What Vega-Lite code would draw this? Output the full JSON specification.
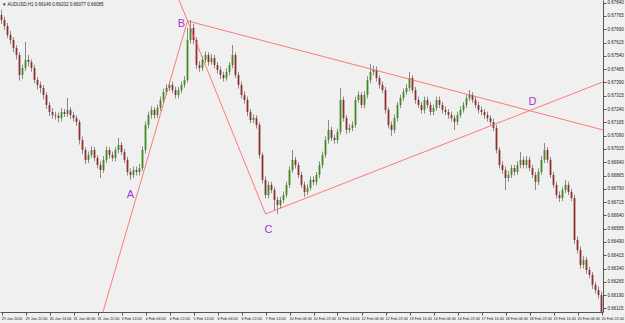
{
"$schema": "https://vega.github.io/schema/vega-lite/v6.json",
"width": 603, "height": 312,
"autosize": {"type": "none"},
"padding": {"left": 0, "top": 0, "right": 22, "bottom": 11},
"background": "#f0f0f0",
"config": {"view": {"stroke": null}, "font": "Liberation Sans"},
"title": {"text": "▼ AUDUSD,H1  0.66146 0.66202 0.66077 0.66085", "anchor": "start", "frame": "group", "offset": -7, "fontSize": 4.5, "fontWeight": "normal", "color": "#222222", "dx": 2},
"datasets": {
"candles": [
{"k":0,"t":"29 Jan 06:00","o":0.67770,"h":0.67800,"l":0.67720,"c":0.67742},
{"k":1,"t":"29 Jan 08:00","o":0.67742,"h":0.67760,"l":0.67685,"c":0.67708},
{"k":2,"t":"29 Jan 10:00","o":0.67708,"h":0.67725,"l":0.67640,"c":0.67658},
{"k":3,"t":"29 Jan 12:00","o":0.67658,"h":0.67680,"l":0.67605,"c":0.67629},
{"k":4,"t":"29 Jan 14:00","o":0.67629,"h":0.67645,"l":0.67560,"c":0.67584},
{"k":5,"t":"29 Jan 16:00","o":0.67584,"h":0.67600,"l":0.67520,"c":0.67545},
{"k":6,"t":"29 Jan 18:00","o":0.67545,"h":0.67560,"l":0.67400,"c":0.67432},
{"k":7,"t":"29 Jan 20:00","o":0.67432,"h":0.67490,"l":0.67410,"c":0.67471},
{"k":8,"t":"29 Jan 22:00","o":0.67471,"h":0.67618,"l":0.67455,"c":0.67517},
{"k":9,"t":"30 Jan 00:00","o":0.67517,"h":0.67545,"l":0.67480,"c":0.67505},
{"k":10,"t":"30 Jan 02:00","o":0.67505,"h":0.67520,"l":0.67450,"c":0.67471},
{"k":11,"t":"30 Jan 04:00","o":0.67471,"h":0.67490,"l":0.67385,"c":0.67404},
{"k":12,"t":"30 Jan 06:00","o":0.67404,"h":0.67420,"l":0.67350,"c":0.67376},
{"k":13,"t":"30 Jan 08:00","o":0.67376,"h":0.67395,"l":0.67330,"c":0.67359},
{"k":14,"t":"30 Jan 10:00","o":0.67359,"h":0.67375,"l":0.67295,"c":0.67319},
{"k":15,"t":"30 Jan 12:00","o":0.67319,"h":0.67335,"l":0.67240,"c":0.67263},
{"k":16,"t":"30 Jan 14:00","o":0.67263,"h":0.67280,"l":0.67200,"c":0.67223},
{"k":17,"t":"30 Jan 16:00","o":0.67223,"h":0.67245,"l":0.67185,"c":0.67206},
{"k":18,"t":"30 Jan 18:00","o":0.67206,"h":0.67225,"l":0.67180,"c":0.67201},
{"k":19,"t":"30 Jan 20:00","o":0.67201,"h":0.67220,"l":0.67165,"c":0.67189},
{"k":20,"t":"30 Jan 22:00","o":0.67189,"h":0.67245,"l":0.67170,"c":0.67223},
{"k":21,"t":"31 Jan 00:00","o":0.67223,"h":0.67240,"l":0.67195,"c":0.67212},
{"k":22,"t":"31 Jan 02:00","o":0.67212,"h":0.67302,"l":0.67195,"c":0.67235},
{"k":23,"t":"31 Jan 04:00","o":0.67235,"h":0.67250,"l":0.67185,"c":0.67206},
{"k":24,"t":"31 Jan 06:00","o":0.67206,"h":0.67225,"l":0.67170,"c":0.67189},
{"k":25,"t":"31 Jan 08:00","o":0.67189,"h":0.67205,"l":0.67145,"c":0.67167},
{"k":26,"t":"31 Jan 10:00","o":0.67167,"h":0.67180,"l":0.67040,"c":0.67065},
{"k":27,"t":"31 Jan 12:00","o":0.67065,"h":0.67085,"l":0.66985,"c":0.67009},
{"k":28,"t":"31 Jan 14:00","o":0.67009,"h":0.67025,"l":0.66930,"c":0.66953},
{"k":29,"t":"31 Jan 16:00","o":0.66953,"h":0.67000,"l":0.66935,"c":0.66981},
{"k":30,"t":"31 Jan 18:00","o":0.66981,"h":0.67030,"l":0.66965,"c":0.67009},
{"k":31,"t":"31 Jan 20:00","o":0.67009,"h":0.67025,"l":0.66945,"c":0.66964},
{"k":32,"t":"31 Jan 22:00","o":0.66964,"h":0.66980,"l":0.66905,"c":0.66924},
{"k":33,"t":"3 Feb 00:00","o":0.66924,"h":0.66945,"l":0.66851,"c":0.66896},
{"k":34,"t":"3 Feb 02:00","o":0.66896,"h":0.66975,"l":0.66880,"c":0.66953},
{"k":35,"t":"3 Feb 04:00","o":0.66953,"h":0.67030,"l":0.66935,"c":0.67009},
{"k":36,"t":"3 Feb 06:00","o":0.67009,"h":0.67025,"l":0.66960,"c":0.66981},
{"k":37,"t":"3 Feb 08:00","o":0.66981,"h":0.67000,"l":0.66945,"c":0.66964},
{"k":38,"t":"3 Feb 10:00","o":0.66964,"h":0.67025,"l":0.66945,"c":0.67009},
{"k":39,"t":"3 Feb 12:00","o":0.67009,"h":0.67077,"l":0.66990,"c":0.67037},
{"k":40,"t":"3 Feb 14:00","o":0.67037,"h":0.67055,"l":0.66980,"c":0.66998},
{"k":41,"t":"3 Feb 16:00","o":0.66998,"h":0.67015,"l":0.66935,"c":0.66953},
{"k":42,"t":"3 Feb 18:00","o":0.66953,"h":0.66970,"l":0.66865,"c":0.66885},
{"k":43,"t":"3 Feb 20:00","o":0.66885,"h":0.66905,"l":0.66840,"c":0.66868},
{"k":44,"t":"3 Feb 22:00","o":0.66868,"h":0.66915,"l":0.66850,"c":0.66896},
{"k":45,"t":"4 Feb 00:00","o":0.66896,"h":0.66915,"l":0.66865,"c":0.66885},
{"k":46,"t":"4 Feb 02:00","o":0.66885,"h":0.66930,"l":0.66865,"c":0.66907},
{"k":47,"t":"4 Feb 04:00","o":0.66907,"h":0.67030,"l":0.66890,"c":0.67009},
{"k":48,"t":"4 Feb 06:00","o":0.67009,"h":0.67170,"l":0.66990,"c":0.67150},
{"k":49,"t":"4 Feb 08:00","o":0.67150,"h":0.67225,"l":0.67130,"c":0.67206},
{"k":50,"t":"4 Feb 10:00","o":0.67206,"h":0.67255,"l":0.67185,"c":0.67235},
{"k":51,"t":"4 Feb 12:00","o":0.67235,"h":0.67250,"l":0.67185,"c":0.67206},
{"k":52,"t":"4 Feb 14:00","o":0.67206,"h":0.67265,"l":0.67190,"c":0.67246},
{"k":53,"t":"4 Feb 16:00","o":0.67246,"h":0.67310,"l":0.67230,"c":0.67291},
{"k":54,"t":"4 Feb 18:00","o":0.67291,"h":0.67355,"l":0.67275,"c":0.67336},
{"k":55,"t":"4 Feb 20:00","o":0.67336,"h":0.67380,"l":0.67320,"c":0.67359},
{"k":56,"t":"4 Feb 22:00","o":0.67359,"h":0.67395,"l":0.67340,"c":0.67376},
{"k":57,"t":"5 Feb 00:00","o":0.67376,"h":0.67395,"l":0.67330,"c":0.67347},
{"k":58,"t":"5 Feb 02:00","o":0.67347,"h":0.67365,"l":0.67300,"c":0.67319},
{"k":59,"t":"5 Feb 04:00","o":0.67319,"h":0.67365,"l":0.67300,"c":0.67347},
{"k":60,"t":"5 Feb 06:00","o":0.67347,"h":0.67395,"l":0.67330,"c":0.67376},
{"k":61,"t":"5 Feb 08:00","o":0.67376,"h":0.67425,"l":0.67360,"c":0.67404},
{"k":62,"t":"5 Feb 10:00","o":0.67404,"h":0.67697,"l":0.67390,"c":0.67629},
{"k":63,"t":"5 Feb 12:00","o":0.67629,"h":0.67742,"l":0.67610,"c":0.67697},
{"k":64,"t":"5 Feb 14:00","o":0.67697,"h":0.67720,"l":0.67605,"c":0.67629},
{"k":65,"t":"5 Feb 16:00","o":0.67629,"h":0.67645,"l":0.67465,"c":0.67488},
{"k":66,"t":"5 Feb 18:00","o":0.67488,"h":0.67510,"l":0.67450,"c":0.67471},
{"k":67,"t":"5 Feb 20:00","o":0.67471,"h":0.67540,"l":0.67455,"c":0.67517},
{"k":68,"t":"5 Feb 22:00","o":0.67517,"h":0.67565,"l":0.67500,"c":0.67545},
{"k":69,"t":"6 Feb 00:00","o":0.67545,"h":0.67560,"l":0.67485,"c":0.67505},
{"k":70,"t":"6 Feb 02:00","o":0.67505,"h":0.67550,"l":0.67490,"c":0.67528},
{"k":71,"t":"6 Feb 04:00","o":0.67528,"h":0.67545,"l":0.67470,"c":0.67488},
{"k":72,"t":"6 Feb 06:00","o":0.67488,"h":0.67505,"l":0.67440,"c":0.67460},
{"k":73,"t":"6 Feb 08:00","o":0.67460,"h":0.67480,"l":0.67410,"c":0.67432},
{"k":74,"t":"6 Feb 10:00","o":0.67432,"h":0.67450,"l":0.67395,"c":0.67415},
{"k":75,"t":"6 Feb 12:00","o":0.67415,"h":0.67470,"l":0.67400,"c":0.67449},
{"k":76,"t":"6 Feb 14:00","o":0.67449,"h":0.67505,"l":0.67430,"c":0.67488},
{"k":77,"t":"6 Feb 16:00","o":0.67488,"h":0.67601,"l":0.67470,"c":0.67545},
{"k":78,"t":"6 Feb 18:00","o":0.67545,"h":0.67560,"l":0.67415,"c":0.67432},
{"k":79,"t":"6 Feb 20:00","o":0.67432,"h":0.67450,"l":0.67355,"c":0.67376},
{"k":80,"t":"6 Feb 22:00","o":0.67376,"h":0.67395,"l":0.67300,"c":0.67319},
{"k":81,"t":"7 Feb 00:00","o":0.67319,"h":0.67340,"l":0.67270,"c":0.67291},
{"k":82,"t":"7 Feb 02:00","o":0.67291,"h":0.67310,"l":0.67200,"c":0.67223},
{"k":83,"t":"7 Feb 04:00","o":0.67223,"h":0.67240,"l":0.67160,"c":0.67178},
{"k":84,"t":"7 Feb 06:00","o":0.67178,"h":0.67210,"l":0.67160,"c":0.67189},
{"k":85,"t":"7 Feb 08:00","o":0.67189,"h":0.67205,"l":0.67130,"c":0.67150},
{"k":86,"t":"7 Feb 10:00","o":0.67150,"h":0.67165,"l":0.66960,"c":0.66981},
{"k":87,"t":"7 Feb 12:00","o":0.66981,"h":0.66995,"l":0.66820,"c":0.66840},
{"k":88,"t":"7 Feb 14:00","o":0.66840,"h":0.66860,"l":0.66735,"c":0.66755},
{"k":89,"t":"7 Feb 16:00","o":0.66755,"h":0.66830,"l":0.66735,"c":0.66812},
{"k":90,"t":"7 Feb 18:00","o":0.66812,"h":0.66830,"l":0.66765,"c":0.66783},
{"k":91,"t":"7 Feb 20:00","o":0.66783,"h":0.66800,"l":0.66671,"c":0.66727},
{"k":92,"t":"7 Feb 22:00","o":0.66727,"h":0.66745,"l":0.66648,"c":0.66699},
{"k":93,"t":"10 Feb 00:00","o":0.66699,"h":0.66745,"l":0.66680,"c":0.66727},
{"k":94,"t":"10 Feb 02:00","o":0.66727,"h":0.66775,"l":0.66710,"c":0.66755},
{"k":95,"t":"10 Feb 04:00","o":0.66755,"h":0.66830,"l":0.66740,"c":0.66812},
{"k":96,"t":"10 Feb 06:00","o":0.66812,"h":0.66915,"l":0.66795,"c":0.66896},
{"k":97,"t":"10 Feb 08:00","o":0.66896,"h":0.67009,"l":0.66880,"c":0.66953},
{"k":98,"t":"10 Feb 10:00","o":0.66953,"h":0.66970,"l":0.66905,"c":0.66924},
{"k":99,"t":"10 Feb 12:00","o":0.66924,"h":0.66940,"l":0.66850,"c":0.66868},
{"k":100,"t":"10 Feb 14:00","o":0.66868,"h":0.66885,"l":0.66795,"c":0.66812},
{"k":101,"t":"10 Feb 16:00","o":0.66812,"h":0.66830,"l":0.66744,"c":0.66772},
{"k":102,"t":"10 Feb 18:00","o":0.66772,"h":0.66815,"l":0.66755,"c":0.66795},
{"k":103,"t":"10 Feb 20:00","o":0.66795,"h":0.66860,"l":0.66780,"c":0.66840},
{"k":104,"t":"10 Feb 22:00","o":0.66840,"h":0.66860,"l":0.66810,"c":0.66829},
{"k":105,"t":"11 Feb 00:00","o":0.66829,"h":0.66885,"l":0.66810,"c":0.66868},
{"k":106,"t":"11 Feb 02:00","o":0.66868,"h":0.66945,"l":0.66850,"c":0.66924},
{"k":107,"t":"11 Feb 04:00","o":0.66924,"h":0.67000,"l":0.66905,"c":0.66981},
{"k":108,"t":"11 Feb 06:00","o":0.66981,"h":0.67085,"l":0.66965,"c":0.67065},
{"k":109,"t":"11 Feb 08:00","o":0.67065,"h":0.67178,"l":0.67045,"c":0.67122},
{"k":110,"t":"11 Feb 10:00","o":0.67122,"h":0.67140,"l":0.67060,"c":0.67077},
{"k":111,"t":"11 Feb 12:00","o":0.67077,"h":0.67095,"l":0.67045,"c":0.67065},
{"k":112,"t":"11 Feb 14:00","o":0.67065,"h":0.67130,"l":0.67045,"c":0.67111},
{"k":113,"t":"11 Feb 16:00","o":0.67111,"h":0.67359,"l":0.67095,"c":0.67291},
{"k":114,"t":"11 Feb 18:00","o":0.67291,"h":0.67310,"l":0.67170,"c":0.67189},
{"k":115,"t":"11 Feb 20:00","o":0.67189,"h":0.67205,"l":0.67100,"c":0.67122},
{"k":116,"t":"11 Feb 22:00","o":0.67122,"h":0.67155,"l":0.67105,"c":0.67133},
{"k":117,"t":"12 Feb 00:00","o":0.67133,"h":0.67170,"l":0.67115,"c":0.67150},
{"k":118,"t":"12 Feb 02:00","o":0.67150,"h":0.67310,"l":0.67135,"c":0.67291},
{"k":119,"t":"12 Feb 04:00","o":0.67291,"h":0.67340,"l":0.67275,"c":0.67319},
{"k":120,"t":"12 Feb 06:00","o":0.67319,"h":0.67335,"l":0.67245,"c":0.67263},
{"k":121,"t":"12 Feb 08:00","o":0.67263,"h":0.67340,"l":0.67245,"c":0.67319},
{"k":122,"t":"12 Feb 10:00","o":0.67319,"h":0.67425,"l":0.67300,"c":0.67404},
{"k":123,"t":"12 Feb 12:00","o":0.67404,"h":0.67494,"l":0.67385,"c":0.67449},
{"k":124,"t":"12 Feb 14:00","o":0.67449,"h":0.67485,"l":0.67430,"c":0.67460},
{"k":125,"t":"12 Feb 16:00","o":0.67460,"h":0.67480,"l":0.67395,"c":0.67415},
{"k":126,"t":"12 Feb 18:00","o":0.67415,"h":0.67430,"l":0.67355,"c":0.67376},
{"k":127,"t":"12 Feb 20:00","o":0.67376,"h":0.67395,"l":0.67330,"c":0.67347},
{"k":128,"t":"12 Feb 22:00","o":0.67347,"h":0.67365,"l":0.67215,"c":0.67235},
{"k":129,"t":"13 Feb 00:00","o":0.67235,"h":0.67250,"l":0.67130,"c":0.67150},
{"k":130,"t":"13 Feb 02:00","o":0.67150,"h":0.67170,"l":0.67088,"c":0.67122},
{"k":131,"t":"13 Feb 04:00","o":0.67122,"h":0.67210,"l":0.67105,"c":0.67189},
{"k":132,"t":"13 Feb 06:00","o":0.67189,"h":0.67280,"l":0.67170,"c":0.67263},
{"k":133,"t":"13 Feb 08:00","o":0.67263,"h":0.67320,"l":0.67245,"c":0.67302},
{"k":134,"t":"13 Feb 10:00","o":0.67302,"h":0.67355,"l":0.67285,"c":0.67336},
{"k":135,"t":"13 Feb 12:00","o":0.67336,"h":0.67380,"l":0.67320,"c":0.67359},
{"k":136,"t":"13 Feb 14:00","o":0.67359,"h":0.67449,"l":0.67340,"c":0.67415},
{"k":137,"t":"13 Feb 16:00","o":0.67415,"h":0.67430,"l":0.67330,"c":0.67347},
{"k":138,"t":"13 Feb 18:00","o":0.67347,"h":0.67365,"l":0.67270,"c":0.67291},
{"k":139,"t":"13 Feb 20:00","o":0.67291,"h":0.67310,"l":0.67245,"c":0.67263},
{"k":140,"t":"13 Feb 22:00","o":0.67263,"h":0.67280,"l":0.67215,"c":0.67235},
{"k":141,"t":"14 Feb 00:00","o":0.67235,"h":0.67310,"l":0.67215,"c":0.67291},
{"k":142,"t":"14 Feb 02:00","o":0.67291,"h":0.67310,"l":0.67245,"c":0.67263},
{"k":143,"t":"14 Feb 04:00","o":0.67263,"h":0.67280,"l":0.67205,"c":0.67223},
{"k":144,"t":"14 Feb 06:00","o":0.67223,"h":0.67265,"l":0.67205,"c":0.67246},
{"k":145,"t":"14 Feb 08:00","o":0.67246,"h":0.67310,"l":0.67230,"c":0.67291},
{"k":146,"t":"14 Feb 10:00","o":0.67291,"h":0.67310,"l":0.67245,"c":0.67263},
{"k":147,"t":"14 Feb 12:00","o":0.67263,"h":0.67280,"l":0.67215,"c":0.67235},
{"k":148,"t":"14 Feb 14:00","o":0.67235,"h":0.67255,"l":0.67205,"c":0.67223},
{"k":149,"t":"14 Feb 16:00","o":0.67223,"h":0.67240,"l":0.67185,"c":0.67206},
{"k":150,"t":"14 Feb 18:00","o":0.67206,"h":0.67225,"l":0.67170,"c":0.67189},
{"k":151,"t":"14 Feb 20:00","o":0.67189,"h":0.67205,"l":0.67122,"c":0.67167},
{"k":152,"t":"14 Feb 22:00","o":0.67167,"h":0.67225,"l":0.67150,"c":0.67206},
{"k":153,"t":"17 Feb 00:00","o":0.67206,"h":0.67255,"l":0.67190,"c":0.67235},
{"k":154,"t":"17 Feb 02:00","o":0.67235,"h":0.67280,"l":0.67220,"c":0.67263},
{"k":155,"t":"17 Feb 04:00","o":0.67263,"h":0.67320,"l":0.67245,"c":0.67302},
{"k":156,"t":"17 Feb 06:00","o":0.67302,"h":0.67347,"l":0.67285,"c":0.67319},
{"k":157,"t":"17 Feb 08:00","o":0.67319,"h":0.67335,"l":0.67275,"c":0.67291},
{"k":158,"t":"17 Feb 10:00","o":0.67291,"h":0.67310,"l":0.67245,"c":0.67263},
{"k":159,"t":"17 Feb 12:00","o":0.67263,"h":0.67280,"l":0.67215,"c":0.67235},
{"k":160,"t":"17 Feb 14:00","o":0.67235,"h":0.67255,"l":0.67205,"c":0.67223},
{"k":161,"t":"17 Feb 16:00","o":0.67223,"h":0.67240,"l":0.67185,"c":0.67206},
{"k":162,"t":"17 Feb 18:00","o":0.67206,"h":0.67225,"l":0.67170,"c":0.67189},
{"k":163,"t":"17 Feb 20:00","o":0.67189,"h":0.67205,"l":0.67150,"c":0.67167},
{"k":164,"t":"17 Feb 22:00","o":0.67167,"h":0.67185,"l":0.67115,"c":0.67133},
{"k":165,"t":"18 Feb 00:00","o":0.67133,"h":0.67150,"l":0.66990,"c":0.67009},
{"k":166,"t":"18 Feb 02:00","o":0.67009,"h":0.67025,"l":0.66905,"c":0.66924},
{"k":167,"t":"18 Feb 04:00","o":0.66924,"h":0.66945,"l":0.66875,"c":0.66896},
{"k":168,"t":"18 Feb 06:00","o":0.66896,"h":0.66915,"l":0.66783,"c":0.66851},
{"k":169,"t":"18 Feb 08:00","o":0.66851,"h":0.66890,"l":0.66830,"c":0.66868},
{"k":170,"t":"18 Feb 10:00","o":0.66868,"h":0.66925,"l":0.66850,"c":0.66907},
{"k":171,"t":"18 Feb 12:00","o":0.66907,"h":0.66925,"l":0.66865,"c":0.66885},
{"k":172,"t":"18 Feb 14:00","o":0.66885,"h":0.66945,"l":0.66870,"c":0.66924},
{"k":173,"t":"18 Feb 16:00","o":0.66924,"h":0.66998,"l":0.66905,"c":0.66953},
{"k":174,"t":"18 Feb 18:00","o":0.66953,"h":0.66970,"l":0.66905,"c":0.66924},
{"k":175,"t":"18 Feb 20:00","o":0.66924,"h":0.66975,"l":0.66905,"c":0.66953},
{"k":176,"t":"18 Feb 22:00","o":0.66953,"h":0.66970,"l":0.66890,"c":0.66907},
{"k":177,"t":"19 Feb 00:00","o":0.66907,"h":0.66925,"l":0.66850,"c":0.66868},
{"k":178,"t":"19 Feb 02:00","o":0.66868,"h":0.66885,"l":0.66783,"c":0.66829},
{"k":179,"t":"19 Feb 04:00","o":0.66829,"h":0.66905,"l":0.66810,"c":0.66885},
{"k":180,"t":"19 Feb 06:00","o":0.66885,"h":0.66975,"l":0.66870,"c":0.66953},
{"k":181,"t":"19 Feb 08:00","o":0.66953,"h":0.67048,"l":0.66935,"c":0.67009},
{"k":182,"t":"19 Feb 10:00","o":0.67009,"h":0.67025,"l":0.66935,"c":0.66953},
{"k":183,"t":"19 Feb 12:00","o":0.66953,"h":0.66970,"l":0.66850,"c":0.66868},
{"k":184,"t":"19 Feb 14:00","o":0.66868,"h":0.66885,"l":0.66795,"c":0.66812},
{"k":185,"t":"19 Feb 16:00","o":0.66812,"h":0.66830,"l":0.66735,"c":0.66755},
{"k":186,"t":"19 Feb 18:00","o":0.66755,"h":0.66775,"l":0.66715,"c":0.66738},
{"k":187,"t":"19 Feb 20:00","o":0.66738,"h":0.66800,"l":0.66720,"c":0.66783},
{"k":188,"t":"19 Feb 22:00","o":0.66783,"h":0.66840,"l":0.66765,"c":0.66812},
{"k":189,"t":"20 Feb 00:00","o":0.66812,"h":0.66830,"l":0.66755,"c":0.66772},
{"k":190,"t":"20 Feb 02:00","o":0.66772,"h":0.66790,"l":0.66720,"c":0.66738},
{"k":191,"t":"20 Feb 04:00","o":0.66738,"h":0.66755,"l":0.66480,"c":0.66501},
{"k":192,"t":"20 Feb 06:00","o":0.66501,"h":0.66520,"l":0.66425,"c":0.66445},
{"k":193,"t":"20 Feb 08:00","o":0.66445,"h":0.66465,"l":0.66340,"c":0.66360},
{"k":194,"t":"20 Feb 10:00","o":0.66360,"h":0.66410,"l":0.66340,"c":0.66389},
{"k":195,"t":"20 Feb 12:00","o":0.66389,"h":0.66405,"l":0.66310,"c":0.66332},
{"k":196,"t":"20 Feb 14:00","o":0.66332,"h":0.66350,"l":0.66285,"c":0.66304},
{"k":197,"t":"20 Feb 16:00","o":0.66304,"h":0.66320,"l":0.66225,"c":0.66248},
{"k":198,"t":"20 Feb 18:00","o":0.66248,"h":0.66265,"l":0.66200,"c":0.66219},
{"k":199,"t":"20 Feb 20:00","o":0.66219,"h":0.66240,"l":0.66170,"c":0.66191},
{"k":200,"t":"20 Feb 22:00","o":0.66191,"h":0.66210,"l":0.66077,"c":0.66085}
],
"lines": [
{"line":"AB","k":33,"p":0.66047},{"line":"AB","k":62,"p":0.67737},
{"line":"BC","k":58,"p":0.67905},{"line":"BC","k":88,"p":0.66648},
{"line":"CD","k":88,"p":0.66648},{"line":"CD","k":200.5,"p":0.67393},
{"line":"BD","k":62,"p":0.67737},{"line":"BD","k":200.5,"p":0.67122}
],
"points": [
{"label":"A","k":43,"p":0.66755},
{"label":"B","k":60,"p":0.67720},
{"label":"C","k":89,"p":0.66558},
{"label":"D","k":177,"p":0.67280}
]
},
"layer": [
{"data":{"name":"candles"},
 "mark":{"type":"rule","color":"#8a8a8a","strokeWidth":1,"clip":true},
 "encoding":{
  "x":{"field":"k","type":"quantitative","scale":{"domain":[-0.5,200.5],"nice":false,"zero":false},
   "axis":{"values":[0,8,16,24,32,40,48,56,64,72,80,88,96,104,112,120,128,136,144,152,160,168,176,184,192,200],
    "tickCount":40,
    "labelExpr":"['29 Jan 2020','29 Jan 22:00','30 Jan 14:00','31 Jan 06:00','31 Jan 22:00','3 Feb 14:00','4 Feb 06:00','4 Feb 22:00','5 Feb 14:00','6 Feb 06:00','6 Feb 22:00','7 Feb 14:00','10 Feb 06:00','10 Feb 22:00','11 Feb 14:00','12 Feb 06:00','12 Feb 22:00','13 Feb 14:00','14 Feb 06:00','14 Feb 22:00','17 Feb 14:00','18 Feb 06:00','18 Feb 22:00','19 Feb 14:00','20 Feb 06:00','20 Feb 22:00'][round(datum.value/8)]",
    "labelAlign":"left","labelBaseline":"top","labelFontSize":3.8,"labelColor":"#222222","labelPadding":1,"labelOffset":-0.5,"labelOverlap":false,"labelFlush":false,
    "tickSize":3,"tickColor":"#555555","domainColor":"#555555","grid":false,"title":null}},
  "y":{"field":"l","type":"quantitative","scale":{"domain":[0.66095,0.67855],"nice":false,"zero":false},
   "axis":{"orient":"right","values":[0.6784,0.67765,0.6769,0.67615,0.6754,0.67465,0.6739,0.67315,0.6724,0.67165,0.6709,0.67015,0.6694,0.66865,0.6679,0.66715,0.6664,0.66565,0.6649,0.66415,0.6634,0.66265,0.6619,0.66115],
    "tickCount":40,
    "format":".5f","labelAlign":"left","labelFontSize":4.5,"labelColor":"#222222","labelPadding":1,"labelOverlap":false,"labelFlush":false,
    "tickSize":3,"tickColor":"#555555","domainColor":"#555555","grid":false,"title":null}},
  "y2":{"field":"h"}}},
{"data":{"name":"candles"},
 "mark":{"type":"rule","strokeWidth":1.8,"clip":true},
 "encoding":{
  "x":{"field":"k","type":"quantitative"},
  "y":{"field":"o","type":"quantitative"},
  "y2":{"field":"c"},
  "color":{"condition":{"test":"datum.c >= datum.o","value":"#3f8a22"},"value":"#8e3030"}}},
{"data":{"name":"lines"},
 "mark":{"type":"line","color":"#ff5c5c","strokeWidth":0.8,"clip":true},
 "encoding":{
  "x":{"field":"k","type":"quantitative"},
  "y":{"field":"p","type":"quantitative"},
  "detail":{"field":"line"}}},
{"data":{"name":"points"},
 "mark":{"type":"text","color":"#a035d0","fontSize":11,"font":"Liberation Sans"},
 "encoding":{
  "x":{"field":"k","type":"quantitative"},
  "y":{"field":"p","type":"quantitative"},
  "text":{"field":"label"}}}
]
}
